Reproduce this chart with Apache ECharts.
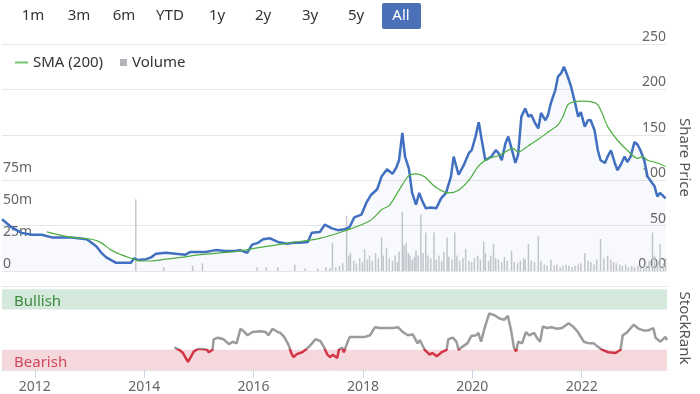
<!DOCTYPE html>
<html>
<head>
<meta charset="utf-8">
<script src="https://cdn.jsdelivr.net/npm/echarts@6/dist/echarts.min.js"></script>
<style>
html,body{margin:0;padding:0;background:#fff;}
#chart{width:700px;height:394px;}
</style>
</head>
<body>
<div id="chart"></div>
<script>
// ---- Data (decimal years) ----
var priceDates = [2011.40,2011.58,2011.76,2011.95,2012.13,2012.31,2012.49,2012.67,2012.95,2013.04,2013.13,2013.22,2013.31,2013.40,2013.49,2013.67,2013.76,2013.82,2013.89,2014.04,2014.13,2014.22,2014.40,2014.58,2014.76,2014.85,2014.95,2015.13,2015.31,2015.49,2015.67,2015.76,2015.89,2015.98,2016.09,2016.18,2016.31,2016.45,2016.62,2016.73,2016.85,2017.00,2017.07,2017.22,2017.31,2017.44,2017.55,2017.67,2017.76,2017.85,2017.98,2018.07,2018.16,2018.27,2018.35,2018.45,2018.55,2018.62,2018.67,2018.73,2018.78,2018.85,2018.91,2018.98,2019.04,2019.09,2019.16,2019.25,2019.35,2019.44,2019.53,2019.62,2019.67,2019.76,2019.85,2019.95,2020.00,2020.07,2020.13,2020.18,2020.25,2020.36,2020.44,2020.49,2020.55,2020.62,2020.67,2020.73,2020.80,2020.85,2020.91,2020.98,2021.04,2021.09,2021.16,2021.22,2021.27,2021.35,2021.40,2021.45,2021.53,2021.58,2021.64,2021.69,2021.76,2021.82,2021.89,2021.95,2022.00,2022.07,2022.13,2022.18,2022.25,2022.31,2022.36,2022.44,2022.49,2022.55,2022.62,2022.67,2022.73,2022.80,2022.85,2022.91,2022.98,2023.04,2023.09,2023.16,2023.22,2023.27,2023.35,2023.40,2023.45,2023.55];
var priceValues = [57,48,42,40,40,37,37,37,35,31,27,20,15,12,9,9,9,14,12,13,15,19,20,19,18,21,21,21,23,22,22,23,20,29,31,35,36,32,30,31,31,32,42,43,51,47,45,46,48,59,62,75,84,90,104,112,107,114,122,152,126,113,86,73,86,78,69,70,69,80,86,104,126,106,116,130,133,148,164,146,122,126,133,130,122,141,148,135,119,128,170,179,170,172,163,157,174,166,172,185,199,214,218,225,214,203,186,170,175,159,166,166,155,133,122,119,126,133,119,111,117,126,120,126,142,139,133,122,104,100,93,82,86,80];

var smaDates = [2012.22,2012.67,2013.04,2013.22,2013.40,2013.58,2013.76,2013.95,2014.13,2014.40,2014.67,2015.04,2015.40,2015.76,2016.13,2016.67,2017.22,2017.67,2018.13,2018.36,2018.49,2018.67,2018.85,2018.98,2019.13,2019.35,2019.58,2019.76,2019.95,2020.13,2020.31,2020.49,2020.67,2020.76,2020.85,2021.04,2021.22,2021.40,2021.58,2021.67,2021.76,2021.85,2022.04,2022.22,2022.31,2022.40,2022.49,2022.67,2022.85,2023.04,2023.13,2023.22,2023.40,2023.55];
var smaValues = [43,37,35,31,23,18,14,11,11,13,15,18,20,22,26,31,36,44,55,68,72,89,105,107,104,92,86,89,100,116,124,127,133,135,131,138,145,153,161,170,183,186,187,186,183,172,159,144,133,124,126,122,119,115];

var volumeDates = [2013.85,2014.36,2014.89,2015.07,2016.07,2016.24,2016.45,2016.76,2016.95,2017.18,2017.33,2017.40,2017.45,2017.51,2017.58,2017.64,2017.71,2017.75,2017.78,2017.84,2017.89,2017.95,2018.00,2018.04,2018.09,2018.13,2018.18,2018.24,2018.29,2018.35,2018.38,2018.44,2018.49,2018.55,2018.60,2018.64,2018.67,2018.73,2018.76,2018.80,2018.84,2018.87,2018.91,2018.95,2018.98,2019.02,2019.07,2019.11,2019.16,2019.20,2019.25,2019.31,2019.35,2019.40,2019.45,2019.49,2019.55,2019.58,2019.64,2019.69,2019.73,2019.78,2019.84,2019.89,2019.95,2020.00,2020.05,2020.11,2020.16,2020.22,2020.25,2020.31,2020.35,2020.40,2020.44,2020.49,2020.55,2020.60,2020.65,2020.73,2020.78,2020.84,2020.89,2020.95,2020.98,2021.04,2021.09,2021.15,2021.22,2021.27,2021.33,2021.38,2021.45,2021.51,2021.56,2021.62,2021.67,2021.73,2021.78,2021.84,2021.89,2021.95,2022.00,2022.07,2022.13,2022.18,2022.24,2022.29,2022.36,2022.42,2022.49,2022.55,2022.60,2022.65,2022.71,2022.76,2022.82,2022.87,2022.93,2022.98,2023.04,2023.09,2023.15,2023.20,2023.25,2023.31,2023.35,2023.40,2023.45,2023.51,2023.55];
var volumeMillions = [56,3,4,6,3,3,3,5,2,2,3,2,22,3,4,6,43,12,14,8,6,10,7,17,9,12,8,14,10,26,12,18,10,8,12,7,15,46,20,22,14,12,9,11,16,12,44,14,30,12,10,30,9,12,8,15,26,11,9,30,12,8,10,17,8,7,10,12,9,23,14,8,12,21,10,9,7,11,8,16,7,6,8,10,9,21,8,7,27,8,5,4,9,4,5,3,4,5,4,3,4,5,6,14,8,7,5,9,25,10,12,9,7,6,5,4,5,3,4,3,4,3,5,4,8,30,12,8,21,6,10];

var rankDates = [2014.55,2014.64,2014.71,2014.80,2014.85,2014.91,2014.98,2015.07,2015.15,2015.18,2015.25,2015.27,2015.35,2015.45,2015.55,2015.62,2015.69,2015.76,2015.82,2015.89,2015.98,2016.13,2016.22,2016.27,2016.35,2016.44,2016.49,2016.56,2016.64,2016.69,2016.73,2016.80,2016.89,2016.95,2017.00,2017.07,2017.13,2017.22,2017.29,2017.35,2017.40,2017.45,2017.53,2017.56,2017.62,2017.65,2017.71,2017.76,2017.89,2018.04,2018.13,2018.22,2018.31,2018.44,2018.55,2018.64,2018.73,2018.82,2018.91,2019.00,2019.04,2019.13,2019.22,2019.27,2019.35,2019.44,2019.53,2019.56,2019.64,2019.71,2019.75,2019.80,2019.91,2019.98,2020.07,2020.11,2020.16,2020.22,2020.31,2020.40,2020.49,2020.58,2020.65,2020.71,2020.76,2020.80,2020.84,2020.91,2020.98,2021.04,2021.13,2021.18,2021.24,2021.29,2021.36,2021.45,2021.55,2021.64,2021.76,2021.84,2021.93,2022.04,2022.13,2022.22,2022.31,2022.38,2022.49,2022.62,2022.65,2022.71,2022.75,2022.82,2022.95,2023.04,2023.13,2023.22,2023.31,2023.35,2023.44,2023.53,2023.56];
var rankValues = [28,25,21,10,16,23,26,26,25,22,25,38,40,38,32,35,33,51,48,43,47,48,47,43,51,47,46,41,31,21,16,20,22,25,28,33,38,36,28,19,16,19,15,25,28,22,33,41,41,41,43,53,52,52,52,53,47,43,44,33,37,25,19,21,17,22,25,38,40,35,25,28,33,42,43,46,35,51,70,68,64,62,67,49,28,23,35,33,47,43,46,40,35,54,52,53,51,52,58,54,47,35,33,33,28,25,22,21,19,25,43,46,56,51,49,49,52,40,35,41,37];

var yearTicks = [2012,2014,2016,2018,2020,2022];
var rangeButtons = ['1m','3m','6m','YTD','1y','2y','3y','5y','All'];
var bearishBelow = 25.5;

function zip(a,b,scale){var r=[];for(var i=0;i<a.length;i++){r.push([a[i], b[i]*(scale||1)]);}return r;}

var FONT = 'Noto Sans';
var chart = echarts.init(document.getElementById('chart'), null, {renderer:'canvas'});

var btnCenters = [33,79,124,170,217,263,310,356,401];
var graphics = [];
graphics.push({type:'rect', shape:{x:382,y:3,width:39,height:26,r:2}, style:{fill:'#4a70b8'}});
rangeButtons.forEach(function(t,i){
  graphics.push({type:'text', x:btnCenters[i], y:16, style:{text:t, fill: t==='All' ? '#ffffff' : '#333333', font:'15px "Noto Sans"', align:'center', verticalAlign:'middle'}});
});

var option = {
  animation:false,
  textStyle:{fontFamily:FONT},
  graphic: graphics,
  legend:[
    {left:10, top:50, itemWidth:13, itemHeight:2, itemGap:10, icon:'rect', data:[{name:'SMA (200)', itemStyle:{color:'#77c36f'}}], textStyle:{fontFamily:FONT, fontSize:15, color:'#333'}, selectedMode:false},
    {left:115, top:50, itemWidth:7, itemHeight:7, icon:'rect', data:[{name:'Volume', itemStyle:{color:'#b5b5b9'}}], textStyle:{fontFamily:FONT, fontSize:15, color:'#333'}, selectedMode:false}
  ],
  grid:[
    {left:2, right:30, top:44, height:227},
    {left:2, right:30, top:286, height:84}
  ],
  xAxis:[
    {type:'value', gridIndex:0, min:2011.4, max:2023.56, show:false, splitLine:{show:false}},
    {type:'value', gridIndex:1, min:2011.4, max:2023.56, position:'bottom',
      splitLine:{show:false},
      axisLine:{show:true, lineStyle:{color:'#e6e6e6'}},
      axisTick:{show:true, customValues:yearTicks, length:8, lineStyle:{color:'#ccd6eb'}},
      axisLabel:{customValues:yearTicks, formatter:function(v){return String(Math.round(v));}, color:'#666', fontSize:14, fontFamily:FONT, margin:10}
    },
    {type:'value', gridIndex:1, min:2011.4, max:2023.56, position:'top',
      axisLine:{show:true, lineStyle:{color:'#e6e6e6'}}, axisTick:{show:false}, axisLabel:{show:false}, splitLine:{show:false}}
  ],
  yAxis:[
    {type:'value', gridIndex:0, position:'right', min:0, max:250, interval:50,
      axisLine:{show:false}, axisTick:{show:false},
      splitLine:{show:true, lineStyle:{color:'#e6e6e6'}},
      axisLabel:{inside:true, margin:0, verticalAlign:'bottom', color:'#666', fontSize:14, fontFamily:FONT,
        formatter:function(v){return v===0 ? '0.00' : String(v);}},
      name:'Share Price', nameLocation:'middle', nameRotate:-90, nameGap:10,
      nameTextStyle:{color:'#555', fontSize:15, fontFamily:FONT}
    },
    {type:'value', gridIndex:0, position:'left', min:0, max:177e6, interval:25e6,
      axisLine:{show:false}, axisTick:{show:false}, splitLine:{show:false},
      axisLabel:{inside:true, margin:1, verticalAlign:'bottom', color:'#666', fontSize:14, fontFamily:FONT,
        formatter:function(v){ if(v>75e6) return ''; return v===0 ? '0' : (v/1e6)+'m'; }}
    },
    {type:'value', gridIndex:1, position:'right', min:0, max:104, interval:104,
      axisLine:{show:false}, axisTick:{show:false}, splitLine:{show:false},
      axisLabel:{inside:true, margin:3, verticalAlign:'bottom', color:'#666', fontSize:14, fontFamily:FONT,
        formatter:function(v){return v===0 ? '0' : '';}},
      name:'StockRank', nameLocation:'middle', nameRotate:-90, nameGap:10,
      nameTextStyle:{color:'#555', fontSize:15, fontFamily:FONT}
    }
  ],
  visualMap:{type:'piecewise', show:false, seriesIndex:4, dimension:1,
    pieces:[{gte:0, lt:bearishBelow, color:'#d23545'},{gte:bearishBelow, lte:104, color:'#9b9b9b'}]},
  series:[
    {name:'Volume', type:'bar', xAxisIndex:0, yAxisIndex:1, data:zip(volumeDates, volumeMillions, 1e6),
      barWidth:1.5, itemStyle:{color:'#c8c8cd'}, z:1},
    {name:'Price', type:'line', xAxisIndex:0, yAxisIndex:0, data:zip(priceDates, priceValues),
      showSymbol:false, lineStyle:{color:'#4270c0', width:2.5}, itemStyle:{color:'#4270c0'},
      areaStyle:{color:'rgba(70,105,190,0.06)'}, z:3},
    {name:'SMA (200)', type:'line', xAxisIndex:0, yAxisIndex:0, data:zip(smaDates, smaValues),
      showSymbol:false, smooth:0.3, lineStyle:{color:'#4cae3f', width:1.2}, itemStyle:{color:'#4cae3f'}, z:4},
    {name:'Bands', type:'line', xAxisIndex:1, yAxisIndex:2, data:[],
      markArea:{silent:true, data:[
        [{yAxis:75, itemStyle:{color:'#d4e8dc'}, label:{show:true, formatter:'Bullish', position:'insideBottomLeft', distance:0, offset:[12,0], color:'#3d8a3d', fontSize:15, fontFamily:FONT}}, {yAxis:100}],
        [{yAxis:0, itemStyle:{color:'#f5d8dc'}, label:{show:true, formatter:'Bearish', position:'insideBottomLeft', distance:0, offset:[12,0], color:'#d0485a', fontSize:15, fontFamily:FONT}}, {yAxis:25}]
      ]}, z:1},
    {name:'StockRank', type:'line', xAxisIndex:1, yAxisIndex:2, data:zip(rankDates, rankValues),
      showSymbol:false, lineStyle:{width:2.5}, z:3}
  ]
};
chart.setOption(option);
</script>
</body>
</html>
